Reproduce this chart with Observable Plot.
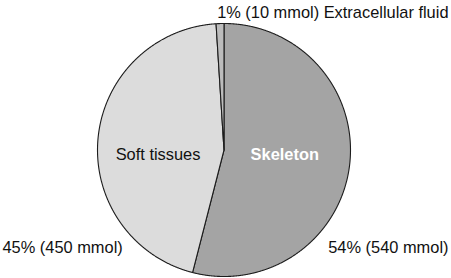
<!DOCTYPE html>
<html><head><meta charset="utf-8">
<script src="https://cdn.jsdelivr.net/npm/d3@7"></script>
<script src="https://cdn.jsdelivr.net/npm/@observablehq/plot@0.6"></script>
<style>
body{margin:0;background:#fff}
#chart svg{display:block;font-family:"Liberation Sans",Arial,Helvetica,sans-serif}
</style>
</head><body><div id="chart"></div>
<script>
// Data
const categories = ["Skeleton", "Soft tissues", "Extracellular fluid"];
const amounts = [540, 450, 10];           // mmol
const percents = [54, 45, 1];             // %
const sliceColors = ["#a4a4a4", "#dcdcdc", "#bcbcbc"];
const insideLabels = ["Skeleton", "Soft tissues", ""];
const outsideLabels = percents.map((p, i) =>
  `${p}% (${amounts[i]} mmol)` + (categories[i] === "Extracellular fluid" ? " Extracellular fluid" : ""));

// Build slice outlines (clockwise from 12 o'clock) from the data
const arcs = d3.pie().sort(null).value(d => d)(amounts);
const slices = [];
arcs.forEach((a, i) => {
  const cat = categories[i];
  const n = Math.max(4, Math.ceil((a.endAngle - a.startAngle) / 0.004));
  slices.push({cat, x: 0, y: 0});
  for (let k = 0; k <= n; k++) {
    const t = a.startAngle + (a.endAngle - a.startAngle) * k / n;
    slices.push({cat, x: Math.sin(t), y: Math.cos(t)});
  }
  slices.push({cat, x: 0, y: 0});
});
const mid = arcs.map(a => (a.startAngle + a.endAngle) / 2);
const inside = categories.map((c, i) => ({cat: c, label: insideLabels[i], x: 0.5 * Math.sin(mid[i]), y: -0.04}));

const W = 451, H = 278, R = 126.5, CX = 223.5, CY = 149.5;
const fontSize = 16.4;

const chart = Plot.plot({
  width: W,
  height: H,
  margin: 0,
  x: {domain: [-CX / R, (W - CX) / R], axis: null},
  y: {domain: [-(H - CY) / R, CY / R], axis: null},
  color: {domain: categories, range: sliceColors},
  style: {fontFamily: "Liberation Sans, Arial, Helvetica, sans-serif"},
  marks: [
    Plot.line(slices, {x: "x", y: "y", z: "cat", fill: "cat", stroke: "#1c1c1c", strokeWidth: 1.1, strokeLinejoin: "round"}),
    Plot.text(inside.filter(d => d.cat === "Skeleton"), {x: "x", y: "y", text: "label", dx: -2, fill: "white", fontWeight: "bold", fontSize}),
    Plot.text(inside.filter(d => d.cat === "Soft tissues"), {x: "x", y: "y", text: "label", dx: -3, fill: "#111", fontSize}),
    Plot.text([outsideLabels[2]], {frameAnchor: "top-right", text: d => d, textAnchor: "end", lineAnchor: "bottom", dx: -3, dy: 17, fill: "#111", fontSize}),
    Plot.text([outsideLabels[1]], {frameAnchor: "bottom-left", text: d => d, textAnchor: "start", lineAnchor: "bottom", dx: 2, dy: -26, fill: "#111", fontSize}),
    Plot.text([outsideLabels[0]], {frameAnchor: "bottom-right", text: d => d, textAnchor: "end", lineAnchor: "bottom", dx: -3, dy: -26, fill: "#111", fontSize})
  ]
});
document.getElementById("chart").append(chart);
</script>
</body></html>
